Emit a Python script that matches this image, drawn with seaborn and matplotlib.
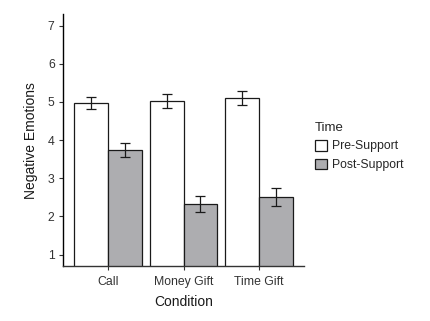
import matplotlib
matplotlib.use("Agg")
import matplotlib.pyplot as plt
import seaborn as sns
import pandas as pd
import numpy as np

conditions = ["Call", "Money Gift", "Time Gift"]
times = ["Pre-Support", "Post-Support"]
pre_means = [4.97, 5.02, 5.10]
post_means = [3.74, 2.33, 2.51]
pre_se = [0.15, 0.19, 0.18]
post_se = [0.18, 0.20, 0.23]

df = pd.DataFrame({
    "Condition": conditions * 2,
    "Time": [times[0]] * 3 + [times[1]] * 3,
    "Negative Emotions": pre_means + post_means,
    "se": pre_se + post_se,
})

sns.set_theme(style="ticks")
plt.rcParams["font.family"] = ["Liberation Sans", "DejaVu Sans"]

fig = plt.figure(figsize=(4.30, 3.21), dpi=100)
ax = fig.add_axes([0.1465, 0.171, 0.5605, 0.785])

palette = {"Pre-Support": "#ffffff", "Post-Support": "#acadb1"}
sns.barplot(data=df, x="Condition", y="Negative Emotions", hue="Time",
            hue_order=times, order=conditions, palette=palette,
            errorbar=None, width=0.9, edgecolor="#1a1a1a", linewidth=0.9,
            ax=ax)

# error bars at the centre of each bar
for cont, t in zip(ax.containers, times):
    sub = df[df["Time"] == t].set_index("Condition").loc[conditions]
    xs = [p.get_x() + p.get_width() / 2 for p in cont.patches]
    ax.errorbar(xs, sub["Negative Emotions"], yerr=sub["se"], fmt="none",
                ecolor="#1a1a1a", elinewidth=0.9, capsize=3.5, capthick=0.9,
                zorder=5)

ax.set_ylim(0.7, 7.3)
ax.set_xlim(-0.6, 2.6)
ax.set_yticks([1, 2, 3, 4, 5, 6, 7])

for s in ["top", "right"]:
    ax.spines[s].set_visible(False)
ax.spines["left"].set_color("#000000")
ax.spines["bottom"].set_color("#333333")
ax.spines["left"].set_linewidth(1.0)
ax.spines["bottom"].set_linewidth(1.0)
ax.tick_params(axis="both", length=3, width=0.8, color="#333333",
               labelsize=8.8, labelcolor="#333333")
ax.tick_params(axis="x", pad=4)
ax.tick_params(axis="y", pad=3)

ax.set_xlabel("Condition", fontsize=10, color="#1a1a1a", labelpad=5)
ax.set_ylabel("Negative Emotions", fontsize=10, color="#1a1a1a", labelpad=7)

leg = ax.legend(title="Time", loc="center left", bbox_to_anchor=(1.0, 0.475),
                frameon=False, fontsize=8.8, title_fontsize=9.5,
                handlelength=1.0, handleheight=1.0, handletextpad=0.4,
                labelspacing=0.5, alignment="left")
for h in leg.legend_handles:
    h.set_edgecolor("#1a1a1a")
    h.set_linewidth(0.9)

fig.savefig("out.png", dpi=100)
